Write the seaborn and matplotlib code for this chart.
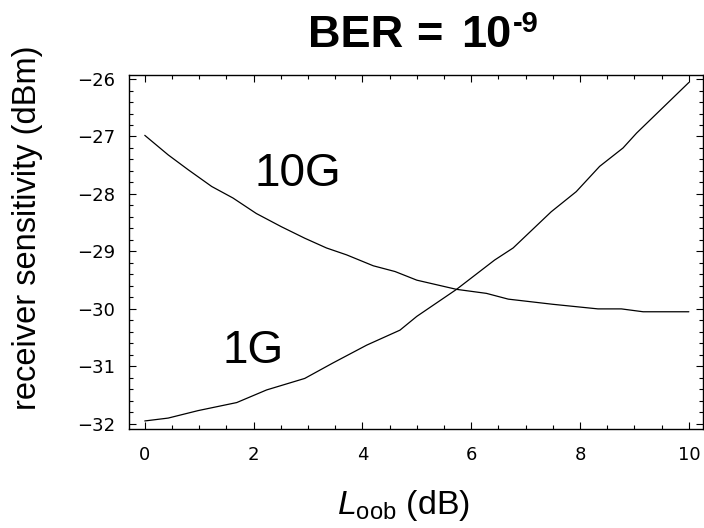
import matplotlib
matplotlib.use("Agg")
import matplotlib.pyplot as plt
import seaborn as sns
import pandas as pd
from matplotlib.ticker import MultipleLocator

# Data
x_10g = [0, 0.43, 0.80, 1.23, 1.62, 2.05, 2.51, 2.94, 3.34, 3.71, 4.2, 4.6, 5.0,
         5.73, 6.28, 6.68, 7.5, 8.33, 8.76, 9.16, 10]
y_10g = [-26.98, -27.32, -27.58, -27.87, -28.07, -28.34, -28.57, -28.77, -28.94,
         -29.06, -29.25, -29.35, -29.5, -29.66, -29.73, -29.83, -29.92, -30.0,
         -30.0, -30.05, -30.05]
x_1g = [0, 0.43, 0.98, 1.69, 2.24, 2.94, 3.46, 4.08, 4.69, 5.0, 5.73, 6.43, 6.77,
        7.47, 7.93, 8.36, 8.79, 9.04, 10]
y_1g = [-31.95, -31.9, -31.77, -31.63, -31.41, -31.21, -30.94, -30.63, -30.37,
        -30.13, -29.66, -29.15, -28.94, -28.31, -27.96, -27.52, -27.2, -26.94, -26.06]
series_labels = ["10G", "1G"]
label_pos = [(2.81, -27.66), (1.99, -30.74)]
x_ticks = [0, 2, 4, 6, 8, 10]
y_ticks = [-32, -31, -30, -29, -28, -27, -26]
title_parts = ["BER", "=", "10"]
title_exp = "-9"

sns.set_style("ticks")
plt.rcParams["font.family"] = ["DejaVu Sans"]
plt.rcParams["text.color"] = "black"
plt.rcParams["axes.labelcolor"] = "black"
plt.rcParams["xtick.color"] = "black"
plt.rcParams["ytick.color"] = "black"
plt.rcParams["mathtext.fontset"] = "custom"
plt.rcParams["mathtext.rm"] = "Liberation Sans"
plt.rcParams["mathtext.it"] = "Liberation Sans:italic"
plt.rcParams["mathtext.bf"] = "Liberation Sans:bold"

df10 = pd.DataFrame({"x": x_10g, "y": y_10g})
df1 = pd.DataFrame({"x": x_1g, "y": y_1g})

W, H = 704, 528
fig = plt.figure(figsize=(W / 100, H / 100), dpi=100)
ax = fig.add_axes([129/W, 1 - 429/H, (703-129)/W, (429-75)/H])

sns.lineplot(data=df10, x="x", y="y", ax=ax, color="black", linewidth=0.9,
             sort=False, estimator=None)
sns.lineplot(data=df1, x="x", y="y", ax=ax, color="black", linewidth=0.9,
             sort=False, estimator=None)

ax.set_xlim(-0.29, 10.26)
ax.set_ylim(-32.09, -25.93)
ax.set_xticks(x_ticks)
ax.set_yticks(y_ticks)
ax.xaxis.set_minor_locator(MultipleLocator(0.5))
ax.yaxis.set_minor_locator(MultipleLocator(0.2))
ax.tick_params(which="both", direction="in", top=True, right=True,
               labeltop=False, labelright=False, color="black", width=0.8)
ax.tick_params(which="major", length=5, labelsize=13)
ax.tick_params(axis="y", which="major", pad=10)
ax.tick_params(axis="x", which="major", pad=12)
ax.tick_params(which="minor", length=3)
for s in ax.spines.values():
    s.set_color("black")
    s.set_linewidth(1.0)

for lab, (lx, ly) in zip(series_labels, label_pos):
    ax.text(lx, ly, lab, fontsize=33, family="Liberation Sans",
            ha="center", va="center")

ax.set_xlabel("")
ax.set_ylabel("")
fig.text(337/W, 1 - 514/H, r"$\mathit{L}_{\mathrm{oob}}$ (dB)", fontsize=24.5,
         family="Liberation Sans", ha="left", va="baseline")
fig.text(28/W, 1 - 228/H, "receiver sensitivity (dBm)", fontsize=23.5,
         family="Liberation Sans", rotation=90, ha="center", va="center")

# Title: "BER = 10^-9" with Mathematica-like spacing
for part, px in zip(title_parts, [308, 416, 461]):
    fig.text(px/W, 1 - 47/H, part, fontsize=32.5, family="Liberation Sans",
             weight="bold", ha="left", va="baseline")
fig.text(513/W, 1 - 32/H, title_exp, fontsize=21, family="Liberation Sans",
         weight="bold", ha="left", va="baseline")

fig.savefig("out.png", dpi=100)
